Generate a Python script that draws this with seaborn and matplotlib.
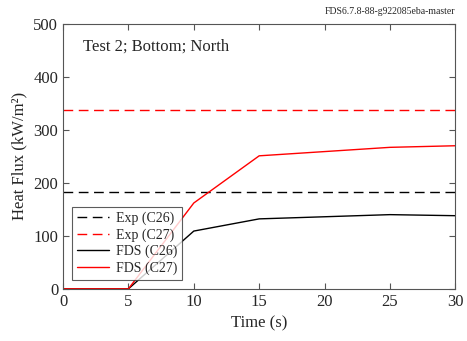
import matplotlib
matplotlib.use("Agg")
import matplotlib.pyplot as plt
import seaborn as sns
import pandas as pd

# dados
tempo = [0, 5, 10, 15, 20, 25, 30]
fds_c26 = [0, 0, 109, 132, 136, 140, 138]
fds_c27 = [0, 0, 162, 251, 259, 267, 270]
exp_c26 = 183
exp_c27 = 338

rotulos = ["Exp (C26)", "Exp (C27)", "FDS (C26)", "FDS (C27)"]
cores = ["black", "red", "black", "red"]

sns.set_style("ticks")
plt.rcParams['font.family'] = ['Liberation Serif', 'DejaVu Serif']

df = pd.DataFrame({
    'Tempo': tempo * 4,
    'Fluxo': [exp_c26] * len(tempo) + [exp_c27] * len(tempo) + fds_c26 + fds_c27,
    'Serie': sum([[r] * len(tempo) for r in rotulos], []),
})

fig, ax = plt.subplots(figsize=(4.67, 3.41), dpi=100)
sns.lineplot(data=df, x='Tempo', y='Fluxo', hue='Serie', style='Serie',
             palette=dict(zip(rotulos, cores)),
             dashes={"Exp (C26)": (7, 4), "Exp (C27)": (7, 4),
                     "FDS (C26)": "", "FDS (C27)": ""},
             linewidth=1.0, ax=ax)

ax.set_xlim(0, 30)
ax.set_ylim(0, 500)
ax.set_xticks(range(0, 31, 5))
ax.set_yticks(range(0, 501, 100))
ax.tick_params(direction='in', top=True, right=True, labelsize=12,
               color='#555555', length=4)
for s in ax.spines.values():
    s.set_color('#555555')
ax.set_xlabel("Time (s)", fontsize=12)
ax.set_ylabel("Heat Flux (kW/m²)", fontsize=12)
ax.text(0.05, 0.9, "Test 2; Bottom; North", transform=ax.transAxes, fontsize=12)
fig.text(0.975, 0.965, "FDS6.7.8-88-g922085eba-master", ha='right', va='center',
         fontsize=7)

leg = ax.legend(loc='lower left', fontsize=10, frameon=True, fancybox=False,
                edgecolor='#333333', handlelength=2.3, borderpad=0.35,
                labelspacing=0.22, handletextpad=0.5, borderaxespad=0,
                bbox_to_anchor=(0.023, 0.034))
leg.get_frame().set_linewidth(0.8)
leg.set_title(None)

fig.subplots_adjust(left=0.135, right=0.975, top=0.93, bottom=0.153)
fig.savefig("out.png", dpi=100)
